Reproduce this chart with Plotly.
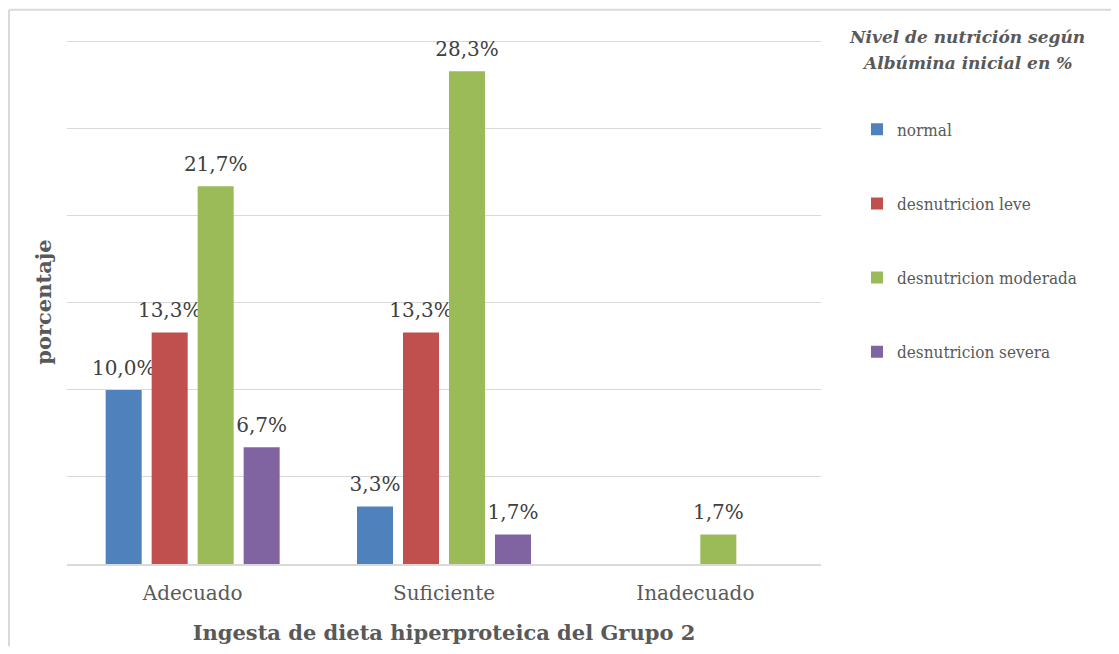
import plotly.graph_objects as go

categories = ["Adecuado", "Suficiente", "Inadecuado"]
series_names = ["normal", "desnutricion leve", "desnutricion moderada", "desnutricion severa"]
normal = [10.0, 3.3, None]
leve = [13.3, 13.3, None]
moderada = [21.7, 28.3, 1.7]
severa = [6.7, 1.7, None]
colors = ["#4F81BD", "#C0504D", "#9BBB59", "#8064A2"]
y_top = 30.1

FONT = "DejaVu Serif"
LEG_FONT = "DejaVu Serif Condensed, DejaVu Serif"

# page body has an 8px margin; figure origin sits at screen (8, 8)
OX, OY = 8, 8
W, H = 1103, 638
L = 67 - OX
R = W - (821 - OX)
B = H - (564 - OY)
PH = (564 - 42) * y_top / 30.0
T = H - B - PH
PW = W - L - R


def px_x(X):
    return (X - OX - L) / PW


def px_y(Y):
    return (H - B - (Y - OY)) / PH


def fmt(v):
    if v is None:
        return ""
    s = f"{v:.1f}%".replace(".", ",")
    return f"<span style='font-size:20px'>{s}</span><br>\u00a0"


fig = go.Figure()
for i, (name, vals) in enumerate(zip(series_names, [normal, leve, moderada, severa])):
    fig.add_trace(go.Bar(
        name=name, x=categories, y=vals,
        marker=dict(color=colors[i], line=dict(width=0)),
        text=[fmt(v) for v in vals], textposition="outside",
        constraintext="none",
        textfont=dict(family=FONT, size=8, color="#404040"),
        cliponaxis=False, legendgroup=name,
    ))

fig.update_layout(
    width=W, height=H,
    margin=dict(l=L, r=R, t=T, b=B, autoexpand=False),
    paper_bgcolor="white", plot_bgcolor="white",
    barmode="group", bargap=0.268, bargroupgap=0.217,
    font=dict(family=FONT, color="#595959"),
    showlegend=True,
    legend=dict(
        x=px_x(857), xanchor="left",
        y=px_y(112), yanchor="top",
        traceorder="grouped", tracegroupgap=49,
        font=dict(family=LEG_FONT, size=17, color="#595959"),
        bgcolor="rgba(0,0,0,0)",
    ),
    xaxis=dict(
        showgrid=False, showline=True, linecolor="#d9d9d9", linewidth=1.5,
        ticks="", ticklabelstandoff=10,
        tickfont=dict(family=FONT, size=20, color="#595959"),
        title=dict(text="<b>Ingesta de dieta hiperproteica del Grupo 2</b>",
                   font=dict(family=FONT, size=21, color="#595959"), standoff=22),
    ),
    yaxis=dict(
        range=[0, y_top], dtick=5, showticklabels=False, ticks="",
        showgrid=True, gridcolor="#d9d9d9", gridwidth=1.3, zeroline=False,
        title=dict(text="<b>porcentaje</b>",
                   font=dict(family=FONT, size=21, color="#595959"), standoff=8),
    ),
    annotations=[
        dict(text="<b><i>Nivel de nutrición según</i></b>",
             xref="paper", yref="paper", x=px_x(967), xanchor="center",
             y=px_y(37), yanchor="middle", showarrow=False,
             font=dict(family=FONT, size=17, color="#595959")),
        dict(text="<b><i>Albúmina inicial en %</i></b>",
             xref="paper", yref="paper", x=px_x(967), xanchor="center",
             y=px_y(63), yanchor="middle", showarrow=False,
             font=dict(family=FONT, size=17, color="#595959")),
    ],
    shapes=[
        dict(type="line", xref="paper", yref="paper",
             x0=px_x(9), x1=px_x(9), y0=px_y(10), y1=px_y(OY + H + 5),
             line=dict(color="#d9d9d9", width=2)),
        dict(type="line", xref="paper", yref="paper",
             x0=px_x(9), x1=px_x(OX + W + 5), y0=px_y(10), y1=px_y(10),
             line=dict(color="#d9d9d9", width=2)),
    ],
)

fig.write_html("out.html")
